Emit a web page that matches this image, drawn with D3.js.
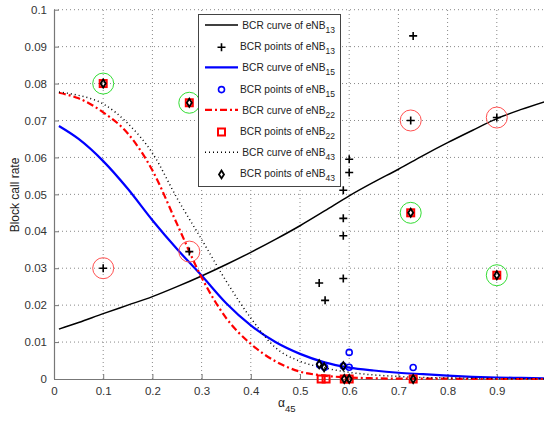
<!DOCTYPE html>
<html><head><meta charset="utf-8">
<script src="https://cdn.jsdelivr.net/npm/d3@7"></script>
<style>body{margin:0;background:#fff;}svg{display:block;font-family:"Liberation Sans",Arial,sans-serif;}</style>
</head><body><svg id="c" width="544" height="421"></svg>
<script>
// ---- data ----
const curveX = [0.01,0.05,0.1,0.15,0.2,0.25,0.3,0.35,0.4,0.45,0.5,0.55,0.6,0.65,0.7,0.75,0.8,0.85,0.9,0.95,1.0];
const curve13 = [0.0135,0.0153,0.0177,0.0200,0.0223,0.0250,0.0279,0.0310,0.0343,0.0378,0.0415,0.0455,0.0496,0.0533,0.0568,0.0605,0.0640,0.0673,0.0705,0.0730,0.0752];
const curve15 = [0.0685,0.0650,0.0590,0.0515,0.0430,0.0352,0.0280,0.0205,0.0145,0.0100,0.0068,0.0045,0.0031,0.0023,0.0017,0.0013,0.0009,0.0006,0.0004,0.0003,0.0002];
const curve22 = [0.0775,0.0760,0.0722,0.0665,0.0565,0.0420,0.0275,0.0165,0.0095,0.0048,0.0020,0.0009,0.0004,0.0002,0.0001,0.0001,0.0001,0.0,0.0,0.0,0.0];
const curve43 = [0.0777,0.0768,0.0745,0.0692,0.0612,0.0490,0.0378,0.0265,0.0165,0.0085,0.0048,0.0030,0.0018,0.0011,0.0007,0.0004,0.0003,0.0002,0.0001,0.0001,0.0];

const pts13X = [0.1,0.275,0.539,0.551,0.588,0.588,0.588,0.588,0.6,0.6,0.725,0.73,0.9];
const pts13Y = [0.030,0.0345,0.026,0.0213,0.0272,0.0388,0.0435,0.0511,0.0559,0.0595,0.070,0.0929,0.0708];
const pts15X = [0.54,0.55,0.588,0.6,0.6,0.73];
const pts15Y = [0.0038,0.0032,0.0035,0.0072,0.0032,0.0031];
const pts22X = [0.1,0.275,0.725,0.9,0.543,0.553,0.59,0.6,0.73];
const pts22Y = [0.080,0.0748,0.045,0.0281,0.0,0.0,0.0,0.0,0.0];
const pts43X = [0.1,0.275,0.725,0.9,0.539,0.549,0.588,0.59,0.6,0.73];
const pts43Y = [0.080,0.0748,0.045,0.0281,0.0040,0.0032,0.0035,0.0,0.0,0.0];

const redCircX = [0.1,0.275,0.725,0.9];
const redCircY = [0.030,0.0345,0.070,0.0708];
const greenCircX = [0.1,0.275,0.725,0.9];
const greenCircY = [0.080,0.0748,0.045,0.0281];

const xTicks = [0,0.1,0.2,0.3,0.4,0.5,0.6,0.7,0.8,0.9];
const yTicks = [0,0.01,0.02,0.03,0.04,0.05,0.06,0.07,0.08,0.09,0.1];

const legendItems = [
  {kind:"line", series:"13", label:"BCR curve of eNB", sub:"13"},
  {kind:"plus", series:"13", label:"BCR points of eNB", sub:"13"},
  {kind:"line", series:"15", label:"BCR curve of eNB", sub:"15"},
  {kind:"circle", series:"15", label:"BCR points of eNB", sub:"15"},
  {kind:"line", series:"22", label:"BCR curve of eNB", sub:"22"},
  {kind:"square", series:"22", label:"BCR points of eNB", sub:"22"},
  {kind:"line", series:"43", label:"BCR curve of eNB", sub:"43"},
  {kind:"diamond", series:"43", label:"BCR points of eNB", sub:"43"}
];

// ---- drawing ----
const svg = d3.select("#c");
const L = 54, R = 546, T = 9.7, B = 379;
const x = d3.scaleLinear().domain([0,1]).range([L,R]);
const y = d3.scaleLinear().domain([0,0.1]).range([B,T]);

const styles = {
  "13": {stroke:"#000", width:1.5, dash:null},
  "15": {stroke:"#0000ff", width:2.2, dash:null},
  "22": {stroke:"#ff0000", width:2.2, dash:"7,3,2,3"},
  "43": {stroke:"#000", width:1.5, dash:"1,3"}
};

// grid
const grid = svg.append("g");
grid.selectAll("line.gx").data(xTicks.filter(d=>d>0)).join("line")
  .attr("x1",d=>x(d)).attr("x2",d=>x(d)).attr("y1",B).attr("y2",T)
  .attr("stroke","#888").attr("stroke-width",1).attr("stroke-dasharray","1,3");
grid.selectAll("line.gy").data(yTicks.filter(d=>d>0)).join("line")
  .attr("y1",d=>y(d)).attr("y2",d=>y(d)).attr("x1",L).attr("x2",544)
  .attr("stroke","#888").attr("stroke-width",1).attr("stroke-dasharray","1,3");

// axes
const xAxis = d3.axisBottom(x).tickValues(xTicks).tickSize(-5).tickPadding(8).tickFormat(d=>d===0?"0":d3.format(".1f")(d));
const yAxis = d3.axisLeft(y).tickValues(yTicks).tickSize(-5).tickPadding(7).tickFormat(d=>d===0?"0":String(+d.toFixed(2)));
const gx = svg.append("g").attr("transform",`translate(0,${B})`).call(xAxis);
const gy = svg.append("g").attr("transform",`translate(${L},0)`).call(yAxis);
[gx,gy].forEach(g=>{
  g.select(".domain").attr("stroke","#777").attr("stroke-width",1.2);
  g.selectAll(".tick line").attr("stroke","#777");
  g.selectAll(".tick text").attr("fill","#333").style("font-size","11.5px").style("font-family","'Liberation Sans',Arial,sans-serif");
});
gx.select(".domain").attr("d",`M${L},0.5H544`);
gy.select(".domain").attr("d",`M0.5,${B}V${T}`);

// curves
const curves = {"13":curve13,"15":curve15,"22":curve22,"43":curve43};
const lineGen = d3.line().x(d=>x(d[0])).y(d=>y(d[1])).curve(d3.curveMonotoneX);
for (const k of ["13","15","22","43"]) {
  const s = styles[k];
  svg.append("path").datum(curveX.map((v,i)=>[v,curves[k][i]]))
    .attr("d",lineGen).attr("fill","none").attr("stroke",s.stroke)
    .attr("stroke-width",s.width).attr("stroke-dasharray",s.dash);
}

// markers
function plus(g,cx,cy,s){ g.append("path").attr("d",`M${cx-s},${cy}H${cx+s}M${cx},${cy-s}V${cy+s}`).attr("stroke","#000").attr("stroke-width",1.6).attr("fill","none"); }
function circ(g,cx,cy){ g.append("circle").attr("cx",cx).attr("cy",cy).attr("r",3).attr("fill","none").attr("stroke","#0000ff").attr("stroke-width",1.6); }
function sq(g,cx,cy){ g.append("rect").attr("x",cx-3.5).attr("y",cy-3.5).attr("width",7).attr("height",7).attr("fill","none").attr("stroke","#ff0000").attr("stroke-width",2); }
function dia(g,cx,cy){ g.append("path").attr("d",`M${cx},${cy-4}L${cx+2.5},${cy}L${cx},${cy+4}L${cx-2.5},${cy}Z`).attr("fill","none").attr("stroke","#000").attr("stroke-width",1.8); }

const mg = svg.append("g");
pts13X.forEach((v,i)=>plus(mg,x(v),y(pts13Y[i]),4));
pts15X.forEach((v,i)=>circ(mg,x(v),y(pts15Y[i])));
pts22X.forEach((v,i)=>sq(mg,x(v),y(pts22Y[i])));
pts43X.forEach((v,i)=>dia(mg,x(v),y(pts43Y[i])));

// highlight circles
redCircX.forEach((v,i)=>svg.append("circle").attr("cx",x(v)).attr("cy",y(redCircY[i])).attr("r",10.5).attr("fill","none").attr("stroke","#ff5050").attr("stroke-width",1));
greenCircX.forEach((v,i)=>svg.append("circle").attr("cx",x(v)).attr("cy",y(greenCircY[i])).attr("r",10.5).attr("fill","none").attr("stroke","#33dd33").attr("stroke-width",1));

// legend
const lg = svg.append("g");
lg.append("rect").attr("x",198.5).attr("y",14.5).attr("width",142).attr("height",172).attr("fill","#fff").attr("stroke","#444").attr("stroke-width",1);
legendItems.forEach((it,i)=>{
  const cy = 25 + i*21.2;
  if (it.kind==="line") {
    const s = styles[it.series];
    lg.append("line").attr("x1",205).attr("x2",238).attr("y1",cy).attr("y2",cy)
      .attr("stroke",s.stroke).attr("stroke-width",s.width).attr("stroke-dasharray",s.dash);
  } else if (it.kind==="plus") plus(lg,221.5,cy+1,4);
  else if (it.kind==="circle") circ(lg,221.5,cy+1);
  else if (it.kind==="square") sq(lg,221.5,cy+1);
  else dia(lg,221.5,cy+1);
  const t = lg.append("text").attr("x",335).attr("y",cy+4).attr("text-anchor","end")
    .attr("fill","#222").style("font-size","10.2px");
  t.append("tspan").text(it.label);
  t.append("tspan").attr("dy",4).style("font-size","8.5px").text(it.sub);
});

// axis labels
svg.append("text").attr("transform","translate(19,195) rotate(-90)").attr("text-anchor","middle")
  .attr("fill","#222").style("font-size","12px").text("Block call rate");
const xl = svg.append("text").attr("x",278).attr("y",407).attr("fill","#222").style("font-size","12px");
xl.append("tspan").text("α");
xl.append("tspan").attr("dy",5).style("font-size","9.5px").text("45");
</script></body></html>
